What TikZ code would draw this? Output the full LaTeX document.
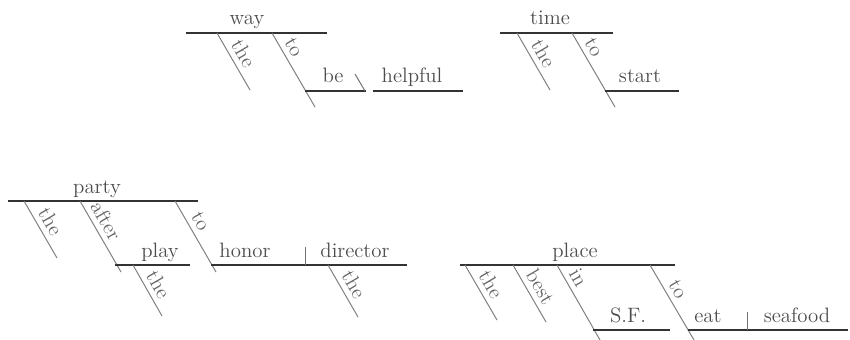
\documentclass[tikz,border=0pt]{standalone}
\begin{document}
\begin{tikzpicture}[x={(0.6pt,0)},y={(0,-0.6pt)},
  baseline/.style={draw=black!80,line width=0.7pt},
  slantline/.style={draw=black!50,line width=0.6pt},
  divider/.style={draw=black!55,line width=0.6pt},
  word/.style={text=black!70,font=\fontsize{12.5}{14}\selectfont,anchor=base,inner sep=0pt},
  slantword/.style={text=black!60,font=\fontsize{12.5}{14}\selectfont,sloped,above,inner sep=3pt}]
  \useasboundingbox (0,0) rectangle (850,340);
  % the way to be helpful
  \draw[baseline] (186,33) -- (327,33);
  \node[word] (way) at (247,25) {way};
  \draw[slantline] (217,33) -- node[slantword,pos=0.47] (wayThe) {the} (250,90);
  \draw[slantline] (272,33) -- node[slantword,pos=0.27] (wayTo) {to} (315,107);
  \draw[baseline] (305,91) -- (366,91);
  \draw[baseline] (373,91) -- (463,91);
  \draw[divider] (355,74) -- (365,91);
  \node[word] (be) at (333,82) {be};
  \node[word] (helpful) at (412,82) {helpful};
  % the time to start
  \draw[baseline] (500,33) -- (613,33);
  \node[word] (time) at (550,25) {time};
  \draw[slantline] (517,33) -- node[slantword,pos=0.47] (timeThe) {the} (550,90);
  \draw[slantline] (572,33) -- node[slantword,pos=0.27] (timeTo) {to} (615,107);
  \draw[baseline] (605,91) -- (679,91);
  \node[word] (start) at (640,82) {start};
  % the party after the play to honor the director
  \draw[baseline] (8,201) -- (198,201);
  \node[word] (party) at (97,193) {party};
  \draw[slantline] (24,201) -- node[slantword,pos=0.47] (partyThe) {the} (57,258);
  \draw[slantline] (80,201) -- node[slantword,pos=0.37] (after) {after} (121,272);
  \draw[baseline] (115,265) -- (190,265);
  \node[word] (play) at (160,257) {play};
  \draw[slantline] (133,265) -- node[slantword,pos=0.5] (playThe) {the} (162,316);
  \draw[slantline] (175,201) -- node[slantword,pos=0.37] (partyTo) {to} (216,272);
  \draw[baseline] (211,265) -- (407,265);
  \draw[divider] (305,247) -- (305,265);
  \node[word] (honor) at (245,257) {honor};
  \node[word] (director) at (355,257) {director};
  \draw[slantline] (328,265) -- node[slantword,pos=0.5] (directorThe) {the} (358,317);
  % the best place in S.F. to eat seafood
  \draw[baseline] (460,265) -- (675,265);
  \node[word] (place) at (575,257) {place};
  \draw[slantline] (465,265) -- node[slantword,pos=0.47] (placeThe) {the} (497,320);
  \draw[slantline] (513,265) -- node[slantword,pos=0.5] (best) {best} (546,322);
  \draw[slantline] (557,265) -- node[slantword,pos=0.25] (in) {in} (600,340);
  \draw[baseline] (593,330) -- (670,330);
  \node[word] (sf) at (628,322) {S.F.};
  \draw[slantline] (650,265) -- node[slantword,pos=0.4] (placeTo) {to} (694,340);
  \draw[baseline] (688,330) -- (848,330);
  \draw[divider] (747,312) -- (747,330);
  \node[word] (eat) at (708,322) {eat};
  \node[word] (seafood) at (797,322) {seafood};
\end{tikzpicture}
\end{document}
